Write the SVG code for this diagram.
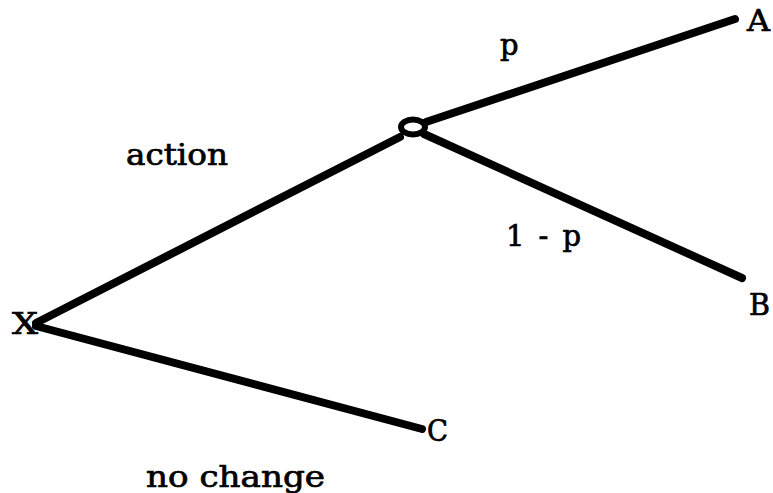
<svg xmlns="http://www.w3.org/2000/svg" width="773" height="493" viewBox="0 0 773 493">
<style>
.t{font-family:"DejaVu Serif","Liberation Serif",serif;font-size:29px;fill:#000;stroke:#000;stroke-width:0.7}
.e{stroke:#000;stroke-width:8;stroke-linecap:round;fill:none}
</style>
<rect width="773" height="493" fill="#fff"/>
<g id="connectors">
<line class="e" x1="36" y1="323" x2="400" y2="137"/>
<line class="e" x1="36" y1="326" x2="422" y2="429"/>
<line class="e" x1="426" y1="122" x2="735" y2="19"/>
<line class="e" x1="424" y1="134" x2="742" y2="278"/>
</g>
<g id="chance"><ellipse cx="413" cy="127" rx="12" ry="7.5" fill="#fff" stroke="#000" stroke-width="6"/></g>
<g id="X"><text class="t" x="12" y="334" textLength="26" lengthAdjust="spacingAndGlyphs">X</text></g>
<g id="A"><text class="t" x="747" y="31" textLength="23" lengthAdjust="spacingAndGlyphs">A</text></g>
<g id="B"><text class="t" x="749" y="315" textLength="21" lengthAdjust="spacingAndGlyphs">B</text></g>
<g id="C"><text class="t" x="427" y="441" textLength="21" lengthAdjust="spacingAndGlyphs">C</text></g>
<g id="labels">
<text class="t" x="500" y="55">p</text>
<text class="t" x="126" y="165" textLength="102" lengthAdjust="spacingAndGlyphs">action</text>
<text class="t" x="506" y="246" textLength="75" lengthAdjust="spacing">1 - p</text>
<text class="t" x="146" y="487" textLength="179" lengthAdjust="spacingAndGlyphs">no change</text>
</g>
</svg>
